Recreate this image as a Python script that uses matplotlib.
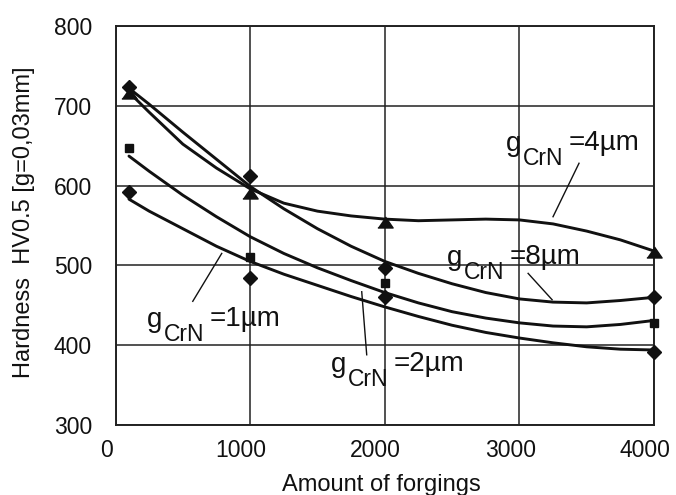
import matplotlib
matplotlib.use("Agg")
import matplotlib.pyplot as plt
import matplotlib.transforms as mtransforms
from matplotlib.lines import Line2D

plt.rcParams['font.family'] = ['Liberation Sans', 'DejaVu Sans']

# ---------------- data ----------------
x_points = [100, 1000, 2000, 4000]
hv_8um = [724, 612, 497, 460]     # diamonds (upper)
hv_4um = [716, 591, 555, 517]     # triangles
hv_2um = [647, 511, 478, 428]     # squares
hv_1um = [592, 484, 461, 391]     # diamonds (lower)

# trend curves
x_curve = [100, 250, 500, 750, 1000, 1250, 1500, 1750, 2000, 2250, 2500,
           2750, 3000, 3250, 3500, 3750, 4000]
curve_4um = [717, 692, 652, 622, 596, 578, 568, 562, 558, 556, 557, 558,
             557, 552, 543, 532, 518]
curve_8um = [722, 702, 667, 633, 599, 571, 546, 524, 505, 490, 477, 466,
             458, 454, 453, 456, 460]
curve_2um = [637, 618, 588, 561, 536, 515, 497, 481, 466, 453, 442, 434,
             428, 424, 423, 426, 431]
curve_1um = [583, 568, 546, 524, 505, 489, 475, 461, 448, 436, 425, 416,
             409, 403, 398, 395, 394]

x_ticks = [0, 1000, 2000, 3000, 4000]
y_ticks = [300, 400, 500, 600, 700, 800]
x_label = "Amount of forgings"
y_label = "Hardness  HV0.5 [g=0,03mm]"
labels = ["=1\u00b5m", "=2\u00b5m", "=4\u00b5m", "=8\u00b5m"]

# ---------------- figure ----------------
W, H = 676, 495
fig = plt.figure(figsize=(W / 100, H / 100), dpi=100)
ax = fig.add_axes([115.5 / W, 1 - 425 / H, (654 - 115.5) / W, (425 - 26) / H])
ax.set_xlim(0, 4000)
ax.set_ylim(300, 800)
ax.set_xticks(x_ticks)
ax.set_yticks(y_ticks)
ax.grid(True, color='#222222', lw=1.1)
ax.set_axisbelow(True)
for s in ax.spines.values():
    s.set_color('#222222')
    s.set_linewidth(1.4)
ax.tick_params(axis='both', length=0, labelsize=16.5, colors='#111111')
ax.tick_params(axis='x', pad=10)
ax.tick_params(axis='y', pad=17)
shift = mtransforms.ScaledTranslation(-9 / 100, 0, fig.dpi_scale_trans)
for lab in ax.get_xticklabels():
    lab.set_transform(lab.get_transform() + shift)

lc = '#111111'
for yc in (curve_4um, curve_8um, curve_2um, curve_1um):
    ax.plot(x_curve, yc, color=lc, lw=2.1, solid_capstyle='round',
            solid_joinstyle='round', zorder=3)

tri = [(-1, -0.72), (1, -0.72), (0, 0.72)]
ax.plot(x_points, hv_8um, ls='none', marker='D', ms=7, color=lc, zorder=4,
        clip_on=False)
ax.plot(x_points, hv_1um, ls='none', marker='D', ms=7, color=lc, zorder=4,
        clip_on=False)
ax.plot(x_points, hv_2um, ls='none', marker='s', ms=5.8, color=lc, zorder=4,
        clip_on=False)
ax.plot(x_points, hv_4um, ls='none', marker=tri, ms=11, color=lc, zorder=4,
        clip_on=False)

# curve labels: (x, y of 'g' baseline), leader start, leader end
label_pos = [(234, 423), (1601, 367), (2901, 643), (2463, 500)]
leaders = [((574, 455), (789, 515)), ((1866, 388), (1829, 467)),
           ((3443, 628), (3250, 561)), ((3065, 490), (3243, 457))]

def px(dx, dy):
    return mtransforms.offset_copy(ax.transData, fig=fig, x=dx * 72 / 100,
                                   y=dy * 72 / 100, units='points')

for (lx, ly), text, (p0, p1) in zip(label_pos, labels, leaders):
    ax.text(lx, ly, "g", fontsize=20, ha='left', va='baseline', color=lc,
            zorder=5)
    ax.text(lx, ly, "CrN", fontsize=16.5, ha='left', va='baseline',
            color=lc, transform=px(17, -14), zorder=5)
    ax.text(lx, ly, text, fontsize=20, ha='left', va='baseline', color=lc,
            transform=px(63, 1), zorder=5)
    ax.add_line(Line2D([p0[0], p1[0]], [p0[1], p1[1]], color=lc, lw=1.0,
                       zorder=5))

fig.text(381.5 / W, 1 - 490.5 / H, x_label, fontsize=17, ha='center',
         va='baseline', color='#111111')
fig.text(24 / W, 1 - 222.5 / H, y_label, fontsize=17, ha='center',
         va='center', rotation=90, color='#111111')

fig.savefig("out.png", dpi=100)
